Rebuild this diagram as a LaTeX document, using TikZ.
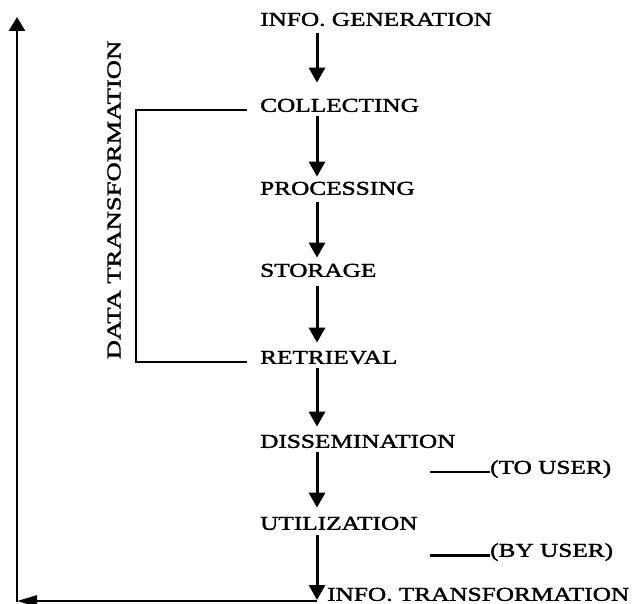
\documentclass[tikz,border=0pt]{standalone}
\usepackage{fontspec}
\setmainfont[FakeStretch=1.29,FakeBold=1.8]{Liberation Serif}
\newfontfamily\dtfont[FakeStretch=1.36,FakeBold=1.8]{Liberation Serif}
\usetikzlibrary{arrows.meta}
\begin{document}
\begin{tikzpicture}[x=1pt,y=-1pt,
  lbl/.style={anchor=south west, inner sep=0pt, text height=13pt, text depth=0pt,
              font=\fontsize{19.6pt}{22pt}\selectfont},
  flow/.style={line width=3pt, -{Triangle[width=16pt,length=15pt]}},
  loopline/.style={line width=2.6pt},
  brk/.style={line width=2.2pt}]
\useasboundingbox (0,0) rectangle (639,604);

% stage labels
\node[lbl] (gen)   at (260,26)  {INFO. GENERATION};
\node[lbl] (col)   at (260,112) {COLLECTING};
\node[lbl] (proc)  at (260,195) {PROCESSING};
\node[lbl] (stor)  at (260,277) {STORAGE};
\node[lbl] (ret)   at (260,364) {RETRIEVAL};
\node[lbl] (diss)  at (260,448) {DISSEMINATION};
\node[lbl] (util)  at (260,530) {UTILIZATION};
\node[lbl] (trans) at (327,601) {INFO. TRANSFORMATION};
\node[lbl] (to)    at (490,474) {(TO USER)};
\node[lbl] (by)    at (490,557) {(BY USER)};
\node[rotate=90, inner sep=0pt, font=\dtfont\fontsize{19.6pt}{22pt}\selectfont]
  (dt) at (114,200) {DATA TRANSFORMATION};

% loop coordinates
\coordinate (turn)   at (317,601);
\coordinate (corner) at (17,601);
\coordinate (top)    at (17,17);

% main flow
\draw[flow] ([xshift=57pt,yshift=-7pt]gen.south west)  -- ([xshift=57pt,yshift=16pt]col.north west);
\draw[flow] ([xshift=57pt,yshift=-4pt]col.south west)  -- ([xshift=57pt,yshift=5pt]proc.north west);
\draw[flow] ([xshift=57pt,yshift=-7pt]proc.south west) -- ([xshift=57pt,yshift=6pt]stor.north west);
\draw[flow] ([xshift=57pt,yshift=-9pt]stor.south west) -- ([xshift=57pt,yshift=8pt]ret.north west);
\draw[flow] ([xshift=57pt,yshift=-4pt]ret.south west)  -- ([xshift=57pt,yshift=8pt]diss.north west);
\draw[flow] ([xshift=57pt,yshift=-4pt]diss.south west) -- ([xshift=57pt,yshift=9pt]util.north west);
\draw[flow, shorten >=1pt] ([xshift=57pt,yshift=-5pt]util.south west) -- (turn);

% feedback loop
\draw[loopline, -{Triangle[width=11pt,length=20pt]}] (turn) -- (corner);
\draw[loopline, shorten <=-1.3pt, -{Triangle[width=16pt,length=14pt]}] (corner) -- (top);

% data transformation bracket
\draw[brk] ([xshift=-13pt,yshift=2pt]col.south west) -- ++(-111,0)
           |- ([xshift=-13pt,yshift=2pt]ret.south west);

% user dashes
\draw[brk] ([yshift=2pt]to.south west) -- ++(-60,0);
\draw[brk] ([yshift=1.5pt]by.south west) -- ++(-60,0);
\end{tikzpicture}
\end{document}
